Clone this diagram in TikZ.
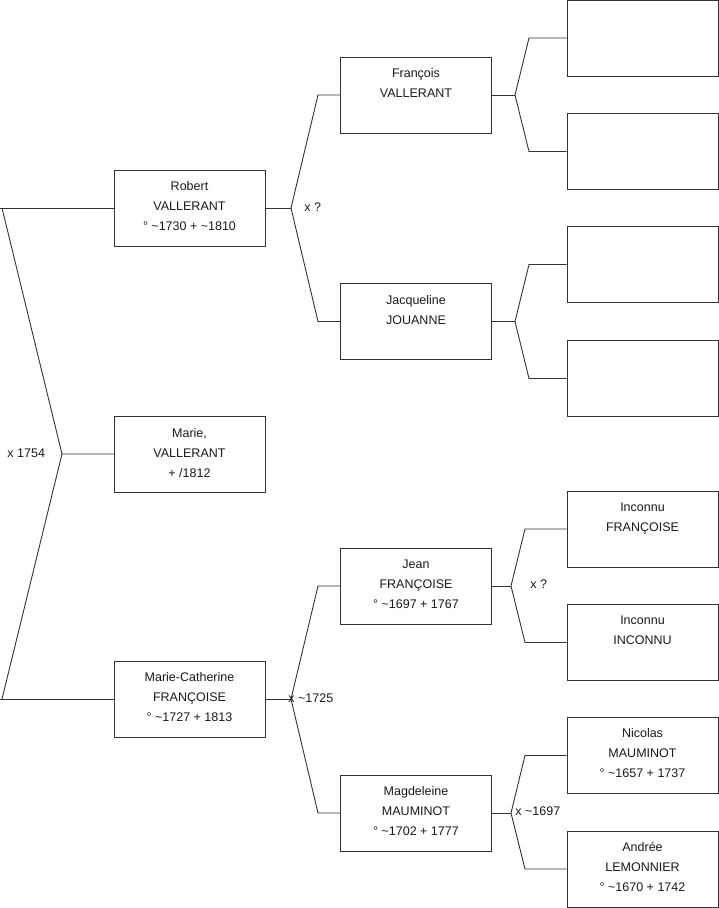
\documentclass[tikz,border=0pt]{standalone}
\usepackage{fontspec}
\setmainfont{Liberation Sans}
\begin{document}
\begin{tikzpicture}[x=1pt,y=-1pt,
  line width=0.9pt,
  conn/.style={draw=black!80, line width=0.9pt},
  person/.style={draw=black!80, line width=0.9pt, minimum width=151pt, minimum height=76pt, inner sep=0pt},
  ptext/.style={align=center, font=\fontsize{12.5}{20}\selectfont, text=black!90, inner sep=0pt},
  lbl/.style={font=\fontsize{12.5}{14}\selectfont, inner sep=0pt, text=black!90}]
\useasboundingbox (0,0) rectangle (719,908);
% column 1
\node[person] (robert) at (189.5,208) {};
\node[person] (marie) at (189.5,454) {};
\node[person] (mc) at (189.5,699) {};
% column 2
\node[person] (francois) at (416,95) {};
\node[person] (jacq) at (416,321.5) {};
\node[person] (jean) at (416,586) {};
\node[person] (magd) at (416,813) {};
% column 3
\node[person] (e1) at (642.5,38) {};
\node[person] (e2) at (642.5,151.5) {};
\node[person] (e3) at (642.5,264.5) {};
\node[person] (e4) at (642.5,378.5) {};
\node[person] (ic1) at (642.5,529) {};
\node[person] (ic2) at (642.5,642.5) {};
\node[person] (nic) at (642.5,755.5) {};
\node[person] (and) at (642.5,869) {};
% texts
\node[ptext] (robert-t) at ([yshift=2pt]robert.center) {Robert\\VALLERANT\\° \textasciitilde1730 + \textasciitilde1810};
\node[ptext] (marie-t) at ([yshift=1pt]marie.center) {Marie,\\VALLERANT\\+ /1812};
\node[ptext] (mc-t) at ([yshift=2pt]mc.center) {Marie-Catherine\\FRANÇOISE\\° \textasciitilde1727 + 1813};
\node[ptext] (francois-t) at ([yshift=2pt]francois.center) {François\\VALLERANT\\~};
\node[ptext] (jacq-t) at ([yshift=2pt]jacq.center) {Jacqueline\\JOUANNE\\~};
\node[ptext] (jean-t) at ([yshift=2pt]jean.center) {Jean\\FRANÇOISE\\° \textasciitilde1697 + 1767};
\node[ptext] (magd-t) at ([yshift=2pt]magd.center) {Magdeleine\\MAUMINOT\\° \textasciitilde1702 + 1777};
\node[ptext] (ic1-t) at ([yshift=2pt]ic1.center) {Inconnu\\FRANÇOISE\\~};
\node[ptext] (ic2-t) at ([yshift=2pt]ic2.center) {Inconnu\\INCONNU\\~};
\node[ptext] (nic-t) at ([yshift=2pt]nic.center) {Nicolas\\MAUMINOT\\° \textasciitilde1657 + 1737};
\node[ptext] (and-t) at ([yshift=2pt]and.center) {Andrée\\LEMONNIER\\° \textasciitilde1670 + 1742};
% fork coordinates
\coordinate (f0) at (62,454);
\coordinate (f0a) at (2,208);
\coordinate (f0b) at (2,699);
\coordinate (f1) at (291,208);
\coordinate (f1a) at (318,95);
\coordinate (f1b) at (318,321.5);
\coordinate (f2) at (291,699);
\coordinate (f2a) at (318,586);
\coordinate (f2b) at (318,813);
\coordinate (f3) at (515,95);
\coordinate (f3a) at (529,38);
\coordinate (f3b) at (529,151.5);
\coordinate (f4) at (515,321.5);
\coordinate (f4a) at (529,264.5);
\coordinate (f4b) at (529,378.5);
\coordinate (f5) at (511,586);
\coordinate (f5a) at (525,529);
\coordinate (f5b) at (525,642.5);
\coordinate (f6) at (511,813);
\coordinate (f6a) at (525,755.5);
\coordinate (f6b) at (525,869);
\coordinate (l0) at (0,208);
\coordinate (l0b) at (0,699);
% connectors
\draw[conn] (robert.west) -- (l0);
\draw[conn] (f0a) -- (f0) -- (marie.west);
\draw[conn] (mc.west) -- (l0b);
\draw[conn] (f0b) -- (f0);
\draw[conn] (robert.east) -- (f1);
\draw[conn] (francois.west) -- (f1a) -- (f1) -- (f1b) -- (jacq.west);
\draw[conn] (mc.east) -- (f2);
\draw[conn] (jean.west) -- (f2a) -- (f2) -- (f2b) -- (magd.west);
\draw[conn] (francois.east) -- (f3);
\draw[conn] (e1.west) -- (f3a) -- (f3) -- (f3b) -- (e2.west);
\draw[conn] (jacq.east) -- (f4);
\draw[conn] (e3.west) -- (f4a) -- (f4) -- (f4b) -- (e4.west);
\draw[conn] (jean.east) -- (f5);
\draw[conn] (ic1.west) -- (f5a) -- (f5) -- (f5b) -- (ic2.west);
\draw[conn] (magd.east) -- (f6);
\draw[conn] (nic.west) -- (f6a) -- (f6) -- (f6b) -- (and.west);
% labels
\node[lbl, anchor=west] (m0) at (7,453) {x 1754};
\node[lbl, anchor=west] (m1) at (304,207) {x ?};
\node[lbl, anchor=west] (m2) at (288,698) {x \textasciitilde1725};
\node[lbl, anchor=west] (m5) at (530,584) {x ?};
\node[lbl, anchor=west] (m6) at (515,811) {x \textasciitilde1697};
\end{tikzpicture}
\end{document}
